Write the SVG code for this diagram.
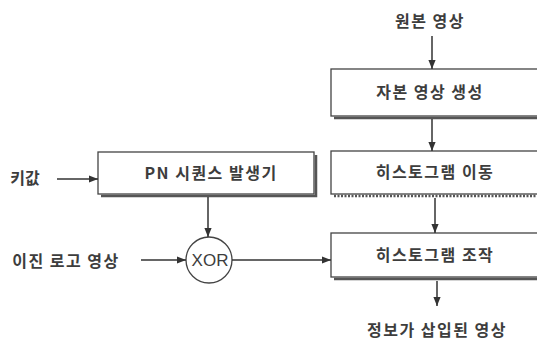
<svg xmlns="http://www.w3.org/2000/svg" width="537" height="348" viewBox="0 0 537 348">
<defs>
<marker id="ah" viewBox="0 0 10 10" refX="10" refY="5" markerWidth="10" markerHeight="9" markerUnits="userSpaceOnUse" orient="auto">
<path d="M0,1 L10,5 L0,9 Z" fill="#333"/>
</marker>
<style>
.t{font-family:"Noto Sans CJK KR","Noto Sans",sans-serif;font-size:16px;font-weight:bold;fill:#3d3d3d;text-anchor:middle;letter-spacing:1.5px}
.b{fill:#fff;stroke:#444;stroke-width:1.3}
.s{fill:none;stroke:#555;stroke-width:2.5}
.c{fill:none;stroke:#333;stroke-width:1.5;marker-end:url(#ah)}
</style>
</defs>
<rect width="537" height="348" fill="#fff"/>
<g id="src"><text class="t" x="430" y="27">원본 영상</text></g>
<g id="diff">
<path class="s" d="M334,118 H540"/>
<rect class="b" x="331" y="69" width="220" height="47"/>
<text class="t" x="430" y="98">자본 영상 생성</text>
</g>
<g id="shift">
<path class="s" d="M334,196 H540" stroke-dasharray="2 1.5"/>
<rect class="b" x="331" y="151" width="220" height="43"/>
<text class="t" x="435" y="178">히스토그램 이동</text>
</g>
<g id="manip">
<path class="s" d="M334,279 H540"/>
<rect class="b" x="331" y="233" width="220" height="44"/>
<text class="t" x="435" y="261">히스토그램 조작</text>
</g>
<g id="pn">
<path class="s" d="M101,196 H316 V155"/>
<rect class="b" x="98" y="152" width="216" height="42"/>
<text class="t" x="211" y="179">PN 시퀀스 발생기</text>
</g>
<g id="key"><text class="t" x="25" y="184" style="letter-spacing:0">키값</text></g>
<g id="logo"><text class="t" x="66" y="267">이진 로고 영상</text></g>
<g id="xor">
<circle cx="209" cy="260" r="23" fill="#fff" stroke="#444" stroke-width="1.3"/>
<text class="t" x="210" y="266" style="font-family:'Liberation Sans',sans-serif;font-weight:normal;font-size:17px;letter-spacing:0">XOR</text>
</g>
<g id="out"><text class="t" x="437" y="336">정보가 삽입된 영상</text></g>
<g id="connectors">
<path class="c" d="M432,36 V69"/>
<path class="c" d="M432,119 V151"/>
<path class="c" d="M435,198 V233"/>
<path class="c" d="M437,281 V306"/>
<path class="c" d="M57,179 H98"/>
<path class="c" d="M208,197 V237"/>
<path class="c" d="M141,260 H186"/>
<path class="c" d="M232,260 H331"/>
</g>
</svg>
